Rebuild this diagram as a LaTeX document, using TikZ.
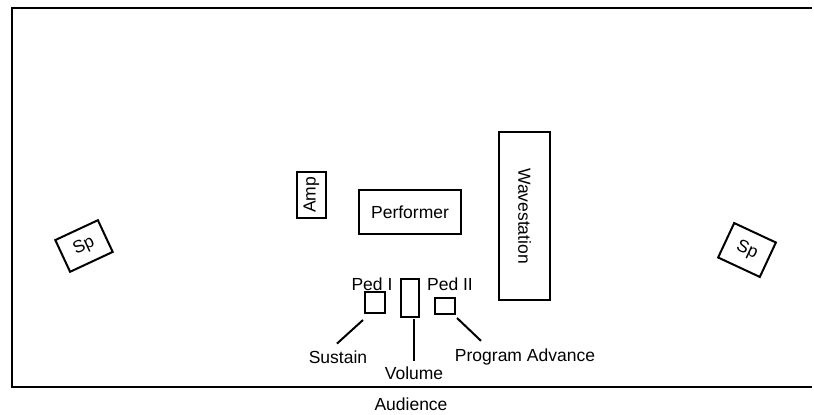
\documentclass[tikz,border=0pt]{standalone}
\usepackage{fontspec}
\setmainfont{Liberation Sans}

\begin{document}
\begin{tikzpicture}
    [x=1pt,y=1pt,line width=2pt,
     every node/.style={font=\fontsize{17.5}{20}\selectfont},
     box/.style={draw,inner sep=0pt},
     lbl/.style={inner sep=1pt}]
    \useasboundingbox (0,0) rectangle (814,415);
    % stage outline, open towards the right
    \draw (812,407) -- (12,407) -- (12,28) -- (812,28);
    \node[box,minimum width=47pt,minimum height=35pt,rotate=25] (spl) at (84,169) {Sp};
    \node[box,minimum width=46pt,minimum height=38pt,rotate=-25] (spr) at (747,165) {Sp};
    \node[box,minimum width=46pt,minimum height=29pt,rotate=90] (amp) at (311.5,220) {Amp};
    \node[box,minimum width=102pt,minimum height=44pt] (perf) at (410,203) {Performer};
    \node[box,minimum width=168pt,minimum height=51pt,rotate=-90] (wave) at (524.5,199) {Wavestation};
    % pedals
    \node[box,minimum width=20pt,minimum height=21pt] (pedI) at (375,112.5) {};
    \node[box,minimum width=18pt,minimum height=38pt] (vol) at (410,117) {};
    \node[box,minimum width=20pt,minimum height=16pt] (pedII) at (445,109) {};
    \node[lbl] (lpedI) at (372,131) {Ped I};
    \node[lbl] (lpedII) at (450,131) {Ped II};
    \node[lbl] (sus) at (338,58) {Sustain};
    \node[lbl] (volume) at (414,42) {Volume};
    \node[lbl] (prog) at (525,58) {Program Advance};
    \node[lbl] (aud) at (411,11) {Audience};
    \draw ([xshift=-12pt,yshift=-6pt]pedI.south) -- ([xshift=-1pt,yshift=5pt]sus.north);
    \draw ([xshift=4pt,yshift=-1pt]vol.south) -- ([yshift=4pt]volume.north);
    \draw ([xshift=12pt,yshift=-3pt]pedII.south) -- ([xshift=-44pt,yshift=6pt]prog.north);
\end{tikzpicture}
\end{document}
